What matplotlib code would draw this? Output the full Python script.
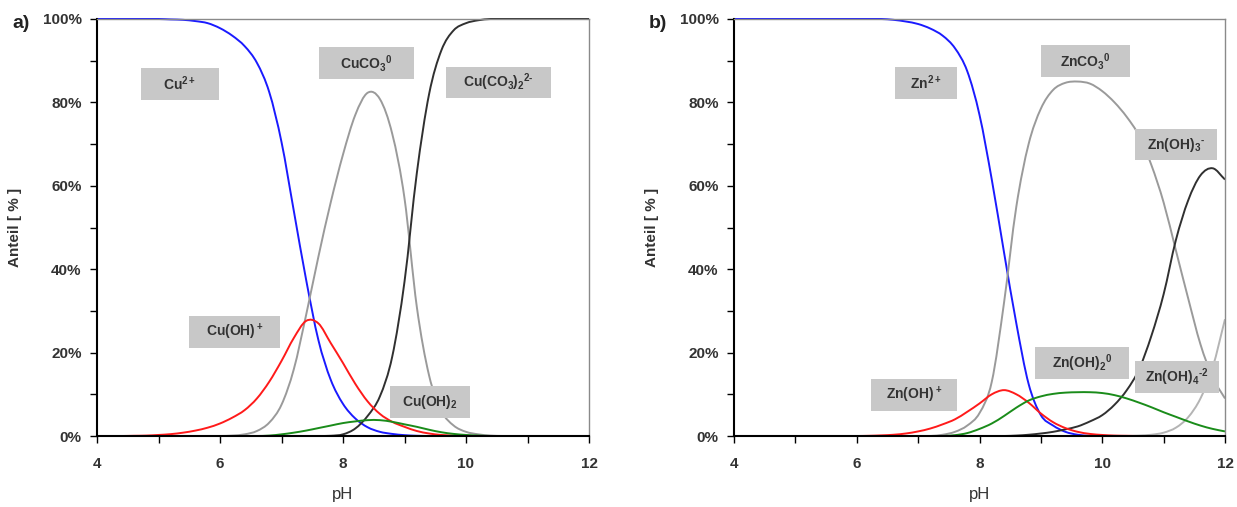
import numpy as np
import matplotlib
matplotlib.use('Agg')
import matplotlib.pyplot as plt
from matplotlib.patches import Rectangle, PathPatch
from matplotlib.path import Path
from matplotlib.ticker import MultipleLocator, FuncFormatter

plt.rcParams['font.family'] = ['Liberation Sans', 'DejaVu Sans']
plt.rcParams['mathtext.fontset'] = 'custom'
plt.rcParams['mathtext.rm'] = 'Liberation Sans'
plt.rcParams['mathtext.bf'] = 'Liberation Sans:bold'
plt.rcParams['mathtext.default'] = 'bf'

# pH grid shared by all series (4.0 ... 12.0, step 0.2)
ph = np.round(np.arange(4.0, 12.0001, 0.2), 1)

# %% panel a) copper species, percent
cu2 = [100, 100, 100, 100, 100, 100, 99.9, 99.8, 99.5, 99.0, 97.8, 96.0, 93.5, 89.5, 82.5,
       70.5, 54, 37.5, 23, 13.5, 7.7, 4.2, 2.1, 1.0, 0.5, 0.2, 0.05,
       0, 0, 0, 0, 0, 0, 0, 0, 0, 0, 0, 0, 0, 0]
cuoh = [0, 0, 0, 0.05, 0.1, 0.25, 0.45, 0.8, 1.3, 2.0, 3.0, 4.4, 6.2, 9.0, 13.0,
        18.0, 23.5, 27.6, 27.0, 22.3, 17.5, 12.5, 8.3, 5.3, 3.4, 2.2, 1.2, 0.6, 0.25, 0.1, 0.03,
        0, 0, 0, 0, 0, 0, 0, 0, 0, 0]
cuco3 = [0, 0, 0, 0, 0, 0, 0, 0, 0, 0, 0, 0.1, 0.4, 1.2, 3.2,
         7.5, 16, 29, 43, 56, 67.5, 77, 82.3, 80.8, 72.5, 57, 31, 14.5, 6, 2.5, 1.0, 0.4, 0.1,
         0, 0, 0, 0, 0, 0, 0, 0]
cuoh2 = [0, 0, 0, 0, 0, 0, 0, 0, 0, 0, 0, 0, 0, 0, 0.1,
         0.4, 0.8, 1.3, 1.9, 2.5, 3.1, 3.5, 3.8, 3.8, 3.4, 2.8, 2.2, 1.5, 0.9, 0.5, 0.25, 0.1,
         0, 0, 0, 0, 0, 0, 0, 0, 0]
cuco32 = [0, 0, 0, 0, 0, 0, 0, 0, 0, 0, 0, 0, 0, 0, 0, 0, 0, 0, 0,
          0.05, 0.4, 1.8, 4.8, 9.5, 19, 37, 63, 82, 92.5, 97.3, 99, 99.7, 100,
          100, 100, 100, 100, 100, 100, 100, 100]

# %% panel b) zinc species, percent
zn2 = [100, 100, 100, 100, 100, 100, 100, 100, 100, 100, 100, 100, 100,
       99.8, 99.4, 98.8, 97.7, 96, 93, 87.5, 77, 61.5, 44, 27, 12.5, 5, 2.5, 1.0, 0.3, 0.05,
       0, 0, 0, 0, 0, 0, 0, 0, 0, 0, 0]
znoh = [0, 0, 0, 0, 0, 0, 0, 0, 0, 0, 0,
        0.05, 0.15, 0.3, 0.6, 1.1, 1.8, 2.8, 4.0, 5.8, 7.8, 10.0, 11.0, 10.0, 8.0, 5.4, 3.3,
        1.9, 1.0, 0.5, 0.25, 0.1, 0.05,
        0, 0, 0, 0, 0, 0, 0, 0]
znco3 = [0, 0, 0, 0, 0, 0, 0, 0, 0, 0, 0, 0, 0, 0, 0, 0, 0,
         0.3, 1.0, 2.5, 5.5, 13, 32, 55, 70, 78.5, 83, 84.7, 85, 84.5, 82.7, 80, 76.5,
         72, 65, 56, 44.5, 33, 22, 14, 9]
znoh2 = [0, 0, 0, 0, 0, 0, 0, 0, 0, 0, 0, 0, 0, 0, 0, 0, 0, 0,
         0.2, 0.7, 1.7, 3.0, 4.8, 6.8, 8.5, 9.5, 10.1, 10.4, 10.5, 10.5, 10.3, 9.8, 9.0,
         8.0, 6.9, 5.7, 4.6, 3.5, 2.5, 1.7, 1.1]
znoh3 = [0, 0, 0, 0, 0, 0, 0, 0, 0, 0, 0, 0, 0, 0, 0, 0, 0, 0, 0, 0, 0, 0, 0,
         0.1, 0.3, 0.6, 1.0, 1.6, 2.3, 3.5, 5.0, 7.5, 11, 16, 24, 34, 47, 56.5, 62.5, 64.2, 61.5]
znoh4 = [0, 0, 0, 0, 0, 0, 0, 0, 0, 0, 0, 0, 0, 0, 0, 0, 0, 0, 0, 0, 0, 0, 0,
         0, 0, 0, 0, 0, 0, 0, 0, 0, 0,
         0.1, 0.3, 0.8, 2.0, 4.5, 9.0, 16.5, 28]

BLUE, RED, GREEN = '#1a1aff', '#ff1a1a', '#1a8c1a'
GREY, DARK, LIGHT = '#9a9a9a', '#303030', '#b4b4b4'

series_a = [(cu2, BLUE), (cuco3, GREY), (cuco32, DARK), (cuoh, RED), (cuoh2, GREEN)]
series_b = [(zn2, BLUE), (znco3, GREY), (znoh4, LIGHT), (znoh3, DARK), (znoh, RED), (znoh2, GREEN)]

# label text, centre pH, centre %, box width (pH units)
labels_a = [('Cu$^{2+}$', 5.35, 84.4, 1.28),
            ('CuCO$_3$$^0$', 8.38, 89.4, 1.54),
            ('Cu(CO$_3$)$_2$$^{2‐}$', 10.53, 84.8, 1.71),
            ('Cu(OH)$^+$', 6.24, 25.0, 1.48),
            ('Cu(OH)$_2$', 9.41, 8.2, 1.30)]
labels_b = [('Zn$^{2+}$', 7.13, 84.7, 1.01),
            ('ZnCO$_3$$^0$', 9.73, 89.9, 1.44),
            ('Zn(OH)$_3$$^‐$', 11.20, 69.9, 1.33),
            ('Zn(OH)$^+$', 6.93, 9.8, 1.40),
            ('Zn(OH)$_2$$^0$', 9.67, 17.5, 1.53),
            ('Zn(OH)$_4$$^{‐2}$', 11.22, 14.2, 1.38)]
box_h = 7.6  # percent


def smooth_line(ax, x, y, color):
    # draw the points as a cardinal (catmull-rom) bezier curve kept inside 0..100
    x = np.asarray(x, float)
    y = np.asarray(y, float)
    h = np.diff(x)
    m = np.gradient(y, x)
    verts = [(x[0], y[0])]
    codes = [Path.MOVETO]
    for i in range(len(x) - 1):
        c1 = np.clip(y[i] + m[i] * h[i] / 3, 0, 100)
        c2 = np.clip(y[i + 1] - m[i + 1] * h[i] / 3, 0, 100)
        verts += [(x[i] + h[i] / 3, c1), (x[i + 1] - h[i] / 3, c2), (x[i + 1], y[i + 1])]
        codes += [Path.CURVE4] * 3
    ax.add_patch(PathPatch(Path(verts, codes), fill=False, edgecolor=color,
                           lw=1.4, clip_on=False, zorder=2))


fig = plt.figure(figsize=(12.37, 5.07), dpi=100)
ax_a = fig.add_axes([97 / 1237, 1 - 436 / 507, 492 / 1237, 417 / 507])
ax_b = fig.add_axes([734 / 1237, 1 - 436 / 507, 491 / 1237, 417 / 507])

for ax, series, labels, tag in [(ax_a, series_a, labels_a, 'a)'), (ax_b, series_b, labels_b, 'b)')]:
    for vals, col in series:
        smooth_line(ax, ph, vals, col)

    for txt, x, y, w in labels:
        ax.add_patch(Rectangle((x - w / 2, y - box_h / 2), w, box_h,
                               facecolor='#c8c8c8', edgecolor='none', zorder=3))
        ax.text(x, y, txt, ha='center', va='center', fontsize=10, fontweight='bold',
                color='#333333', zorder=4)

    ax.set_xlim(4, 12)
    ax.set_ylim(0, 100)
    ax.xaxis.set_major_locator(MultipleLocator(2))
    ax.xaxis.set_minor_locator(MultipleLocator(1))
    ax.yaxis.set_major_locator(MultipleLocator(20))
    ax.yaxis.set_minor_locator(MultipleLocator(10))
    ax.yaxis.set_major_formatter(FuncFormatter(lambda v, p: f'{v:.0f}%'))
    ax.tick_params(which='both', direction='out', length=5, width=1, color='black')
    ax.tick_params(axis='x', which='major', pad=10)
    ax.tick_params(axis='y', which='major', pad=6)
    for lab in ax.get_xticklabels() + ax.get_yticklabels():
        lab.set_fontweight('bold')
        lab.set_fontsize(11)
        lab.set_color('#333333')

    for s in ['left', 'bottom']:
        ax.spines[s].set_color('black')
        ax.spines[s].set_linewidth(1.5)
    for s in ['top', 'right']:
        ax.spines[s].set_color('#8a8a8a')
        ax.spines[s].set_linewidth(1)

    ax.set_xlabel('pH', fontsize=12, color='#333333', labelpad=12)
    ax.set_ylabel('Anteil [ % ]', fontsize=11, fontweight='bold', color='#333333')
    ax.yaxis.set_label_coords(-0.152, 0.5)

    pos = ax.get_position()
    fig.text(pos.x0 - 85 / 1237, 1 - 23 / 507, tag, fontsize=14, fontweight='bold',
             color='#222222', va='center', ha='left')

fig.savefig('out.png', dpi=100)
